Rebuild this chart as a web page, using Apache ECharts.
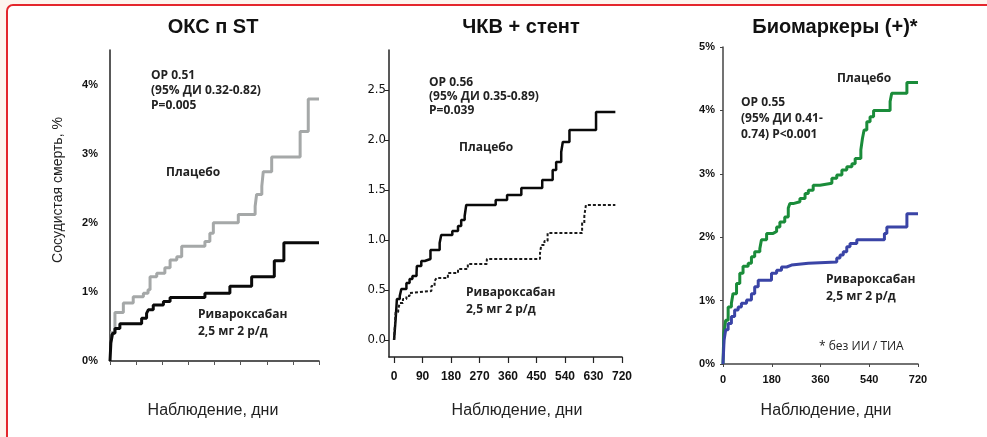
<!DOCTYPE html>
<html>
<head>
<meta charset="utf-8">
<script src="https://cdn.jsdelivr.net/npm/echarts@6/dist/echarts.min.js"></script>
<style>
  html, body { margin: 0; padding: 0; }
  #chart { width: 987px; height: 437px; }
</style>
</head>
<body>
<div id="chart"></div>
<script>
"use strict";

// ОКС п ST
var acsPlaceboDays = [0, 17, 46, 80, 115, 131, 138, 161, 189, 207, 230, 247, 327, 344, 356, 442, 500, 505, 523, 528, 557, 655, 683, 720];
var acsPlaceboRisk = [0.41, 0.70, 0.84, 0.93, 0.98, 1.03, 1.22, 1.27, 1.35, 1.46, 1.51, 1.66, 1.73, 1.85, 2.00, 2.12, 2.24, 2.41, 2.53, 2.74, 2.95, 3.32, 3.79, 3.79];
var acsRivaDays = [0, 3, 9, 17, 34, 109, 126, 132, 149, 184, 207, 327, 413, 488, 566, 599, 720];
var acsRivaRisk = [0, 0.26, 0.40, 0.47, 0.54, 0.62, 0.69, 0.74, 0.81, 0.86, 0.92, 0.98, 1.08, 1.22, 1.45, 1.71, 1.71];

// ЧКВ + стент
var pciPlaceboDays = [0, 5, 9, 18, 23, 39, 49, 58, 71, 72, 86, 97, 115, 144, 149, 184, 202, 212, 223, 228, 321, 357, 402, 468, 501, 512, 528, 533, 554, 638, 699];
var pciPlaceboRisk = [0, 0.21, 0.41, 0.44, 0.51, 0.57, 0.61, 0.64, 0.67, 0.74, 0.79, 0.81, 0.90, 0.97, 1.05, 1.09, 1.14, 1.20, 1.24, 1.35, 1.40, 1.45, 1.52, 1.60, 1.70, 1.78, 1.88, 1.98, 2.10, 2.28, 2.28];
var pciRivaDays = [0, 5, 13, 18, 28, 39, 49, 55, 118, 128, 134, 170, 202, 233, 293, 461, 465, 475, 485, 594, 601, 606, 699];
var pciRivaRisk = [0, 0.28, 0.31, 0.37, 0.41, 0.44, 0.47, 0.49, 0.54, 0.59, 0.62, 0.67, 0.71, 0.76, 0.81, 0.87, 0.95, 0.99, 1.07, 1.17, 1.24, 1.35, 1.35];

// Биомаркеры (+)
var bioPlaceboDays = [0, 3, 10, 19, 31, 37, 50, 62, 74, 93, 105, 117, 136, 142, 161, 185, 198, 210, 228, 241, 247, 259, 284, 303, 315, 333, 358, 402, 420, 439, 457, 476, 488, 509, 515, 521, 531, 543, 556, 617, 623, 679, 720];
var bioPlaceboRisk = [0, 0.48, 0.69, 0.90, 0.96, 1.11, 1.27, 1.43, 1.54, 1.59, 1.69, 1.77, 1.82, 1.96, 2.06, 2.09, 2.16, 2.24, 2.32, 2.46, 2.53, 2.56, 2.61, 2.69, 2.74, 2.82, 2.85, 2.93, 2.98, 3.06, 3.11, 3.16, 3.24, 3.38, 3.56, 3.69, 3.82, 3.90, 4.00, 4.14, 4.27, 4.44, 4.44];
var bioRivaDays = [0, 4, 10, 19, 31, 43, 56, 68, 87, 105, 117, 130, 179, 198, 216, 235, 253, 315, 420, 432, 444, 457, 469, 494, 596, 605, 679, 720];
var bioRivaRisk = [0, 0.38, 0.54, 0.64, 0.75, 0.85, 0.90, 0.96, 1.01, 1.11, 1.22, 1.32, 1.43, 1.48, 1.53, 1.56, 1.59, 1.61, 1.67, 1.72, 1.77, 1.85, 1.90, 1.96, 2.06, 2.16, 2.37, 2.37];

var acsYTicks = [0, 1, 2, 3, 4];
var pciYTicks = [0, 0.5, 1, 1.5, 2, 2.5];
var pciXTicks = [0, 90, 180, 270, 360, 450, 540, 630, 720];

var panelTitles = ['ОКС п ST', 'ЧКВ + стент', 'Биомаркеры (+)*'];
var xAxisTitle = 'Наблюдение, дни';
var yAxisTitle = 'Сосудистая смерть, %';

function zip(days, risk) {
	var out = [];
	for (var i = 0; i < days.length; i++) {
		out.push([days[i], risk[i]]);
	}
	return out;
}

var AXIS_COLOR = '#222';
var LABEL_FONT = 'Liberation Sans';
var NOTE_FONT = 'Open Sans';

function stepLine(xi, data, color, width, type) {
	return {
		type: 'line',
		xAxisIndex: xi,
		yAxisIndex: xi,
		step: 'end',
		showSymbol: false,
		data: data,
		lineStyle: { color: color, width: width, type: type || 'solid' },
		z: 3
	};
}

function note(x, y, text, opts) {
	opts = opts || {};
	return {
		type: 'text',
		left: x,
		top: y,
		style: {
			text: text,
			fill: '#222',
			font: (opts.weight || 'bold') + ' ' + (opts.size || 12) + 'px "' + (opts.family || NOTE_FONT) + '"',
			lineHeight: opts.lineHeight || 15
		}
	};
}

function title(cx, text) {
	return {
		type: 'text',
		x: cx,
		y: 27,
		style: {
			text: text,
			fill: '#111',
			font: 'bold 20px "Liberation Sans"',
			align: 'center',
			verticalAlign: 'middle'
		}
	};
}

function axisName(cx, text) {
	return {
		type: 'text',
		x: cx,
		y: 411,
		style: {
			text: text,
			fill: '#222',
			font: '16px "Liberation Sans"',
			align: 'center',
			verticalAlign: 'middle'
		}
	};
}

var chart = echarts.init(document.getElementById('chart'));

chart.setOption({
	animation: false,
	backgroundColor: '#fdf4ee',
	grid: [
		{ left: 110, top: 50, width: 209, height: 311 },
		{ left: 389, top: 50, width: 233, height: 307 },
		{ left: 723, top: 47, width: 195, height: 317 }
	],
	xAxis: [
		{
			gridIndex: 0, type: 'value', min: 0, max: 720, interval: 90,
			splitLine: { show: false },
			axisLine: { lineStyle: { color: AXIS_COLOR, width: 1.5 } },
			axisTick: { show: true, length: 4, lineStyle: { color: '#555' } },
			axisLabel: { show: false }
		},
		{
			gridIndex: 1, type: 'value', min: -16, max: 720,
			splitLine: { show: false },
			axisLine: { onZero: false, lineStyle: { color: AXIS_COLOR, width: 1.5 } },
			axisTick: { show: true, length: 6, customValues: pciXTicks, lineStyle: { color: AXIS_COLOR, width: 1.2 } },
			axisLabel: { customValues: pciXTicks, color: '#111', fontWeight: 'bold', fontSize: 12, fontFamily: LABEL_FONT, margin: 14 }
		},
		{
			gridIndex: 2, type: 'value', min: 0, max: 720, interval: 180,
			splitLine: { show: false },
			axisLine: { lineStyle: { color: '#444', width: 1.5 } },
			axisTick: { show: true, length: 3, lineStyle: { color: '#444' } },
			axisLabel: { color: '#111', fontWeight: 'bold', fontSize: 11, fontFamily: LABEL_FONT, margin: 10 }
		}
	],
	yAxis: [
		{
			gridIndex: 0, type: 'value', min: 0, max: 4.5,
			splitLine: { show: false },
			axisLine: { show: true, lineStyle: { color: AXIS_COLOR, width: 1.5 } },
			axisTick: { show: false },
			axisLabel: { customValues: acsYTicks, formatter: '{value}%', color: '#111', fontWeight: 'bold', fontSize: 11, fontFamily: LABEL_FONT, margin: 12 }
		},
		{
			gridIndex: 1, type: 'value', min: -0.17, max: 2.9,
			splitLine: { show: false },
			axisLine: { show: true, onZero: false, lineStyle: { color: AXIS_COLOR, width: 1.5 } },
			axisTick: { show: true, length: 4, customValues: pciYTicks, lineStyle: { color: AXIS_COLOR } },
			axisLabel: {
				customValues: pciYTicks,
				formatter: function(v) { return v.toFixed(1); },
				color: '#111', fontSize: 13, fontFamily: 'DejaVu Sans Condensed', margin: 3
			}
		},
		{
			gridIndex: 2, type: 'value', min: 0, max: 5, interval: 1,
			splitLine: { show: false },
			axisLine: { show: true, lineStyle: { color: '#444', width: 1.5 } },
			axisTick: { show: true, length: 3, lineStyle: { color: '#444' } },
			axisLabel: { formatter: '{value}%', color: '#111', fontWeight: 'bold', fontSize: 11, fontFamily: LABEL_FONT, margin: 8 }
		}
	],
	series: [
		stepLine(0, zip(acsPlaceboDays, acsPlaceboRisk), '#a5a8a8', 3),
		stepLine(0, zip(acsRivaDays, acsRivaRisk), '#0a0a0a', 3),
		stepLine(1, zip(pciPlaceboDays, pciPlaceboRisk), '#0a0a0a', 2.5),
		stepLine(1, zip(pciRivaDays, pciRivaRisk), '#1a1a1a', 2, [3, 2]),
		stepLine(2, zip(bioPlaceboDays, bioPlaceboRisk), '#1a8c3a', 3),
		stepLine(2, zip(bioRivaDays, bioRivaRisk), '#3a44a6', 3)
	],
	graphic: [
		{
			type: 'rect',
			z: -10,
			silent: true,
			shape: { x: 7, y: 5, width: 1010, height: 460, r: 6 },
			style: { fill: '#ffffff', stroke: '#e4262c', lineWidth: 2 }
		},
		title(213, panelTitles[0]),
		title(521, panelTitles[1]),
		title(835, panelTitles[2]),
		axisName(213, xAxisTitle),
		axisName(517, xAxisTitle),
		axisName(826, xAxisTitle),
		{
			type: 'text',
			x: 58,
			y: 190,
			rotation: Math.PI / 2,
			style: {
				text: yAxisTitle,
				fill: '#222',
				font: '14px "Liberation Sans"',
				align: 'center',
				verticalAlign: 'middle'
			}
		},
		note(151, 68, 'ОР 0.51\n(95% ДИ 0.32-0.82)\nP=0.005'),
		note(166, 165, 'Плацебо'),
		note(198, 306, 'Ривароксабан\n2,5 мг 2 р/д', { lineHeight: 17 }),
		note(429, 76, 'ОР 0.56\n(95% ДИ 0.35-0.89)\nP=0.039', { lineHeight: 14 }),
		note(459, 140, 'Плацебо'),
		note(466, 284, 'Ривароксабан\n2,5 мг 2 р/д', { lineHeight: 17 }),
		note(837, 71, 'Плацебо'),
		note(741, 95, 'ОР 0.55\n(95% ДИ 0.41-\n0.74) P<0.001', { lineHeight: 16 }),
		note(826, 271, 'Ривароксабан\n2,5 мг 2 р/д', { lineHeight: 17 }),
		note(819, 339, '* без ИИ / ТИА', { weight: 'normal', size: 12 })
	]
});
</script>
</body>
</html>
